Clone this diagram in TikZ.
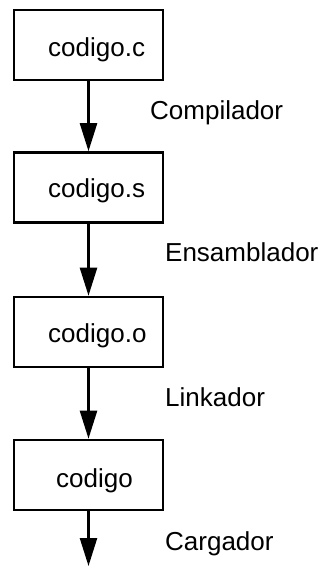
\documentclass[tikz,border=0pt]{standalone}
\usepackage{fontspec}
\setmainfont{Liberation Sans}
\usetikzlibrary{arrows.meta}
\begin{document}
\begin{tikzpicture}[x=1pt,y=-1pt,
  filebox/.style={draw=black, line width=2.6pt, minimum width=149pt, minimum height=70pt, inner sep=0pt},
  boxtext/.style={anchor=base west, inner sep=0pt, font=\fontsize{26}{30}\selectfont},
  steplabel/.style={anchor=base west, inner sep=0pt, font=\fontsize{26}{30}\selectfont},
  flow/.style={line width=2.4pt, -{Triangle[length=28pt,width=17pt]}}]
  \useasboundingbox (0,0) rectangle (324,566);

  % source files and the executable
  \node[filebox] (b1) at (88.5,45) {};
  \node[filebox] (b2) at (88.5,187.5) {};
  \node[filebox] (b3) at (88.5,332) {};
  \node[filebox] (b4) at (88.5,475) {};

  \node[boxtext] (t1) at (48,56.5) {codigo.c};
  \node[boxtext] (t2) at (48,197.5) {codigo.s};
  \node[boxtext] (t3) at (48,342.5) {codigo.o};
  \node[boxtext] (t4) at (56,487) {codigo};

  % tool chain steps
  \coordinate (end) at (88.5,566);
  \draw[flow] (b1.south) -- (b2.north);
  \draw[flow] (b2.south) -- (b3.north);
  \draw[flow] (b3.south) -- (b4.north);
  \draw[flow] (b4.south) -- (end);

  \node[steplabel] (l1) at (150,119.5) {Compilador};
  \node[steplabel] (l2) at (165,261.5) {Ensamblador};
  \node[steplabel] (l3) at (165,406) {Linkador};
  \node[steplabel] (l4) at (165,550) {Cargador};
\end{tikzpicture}
\end{document}
